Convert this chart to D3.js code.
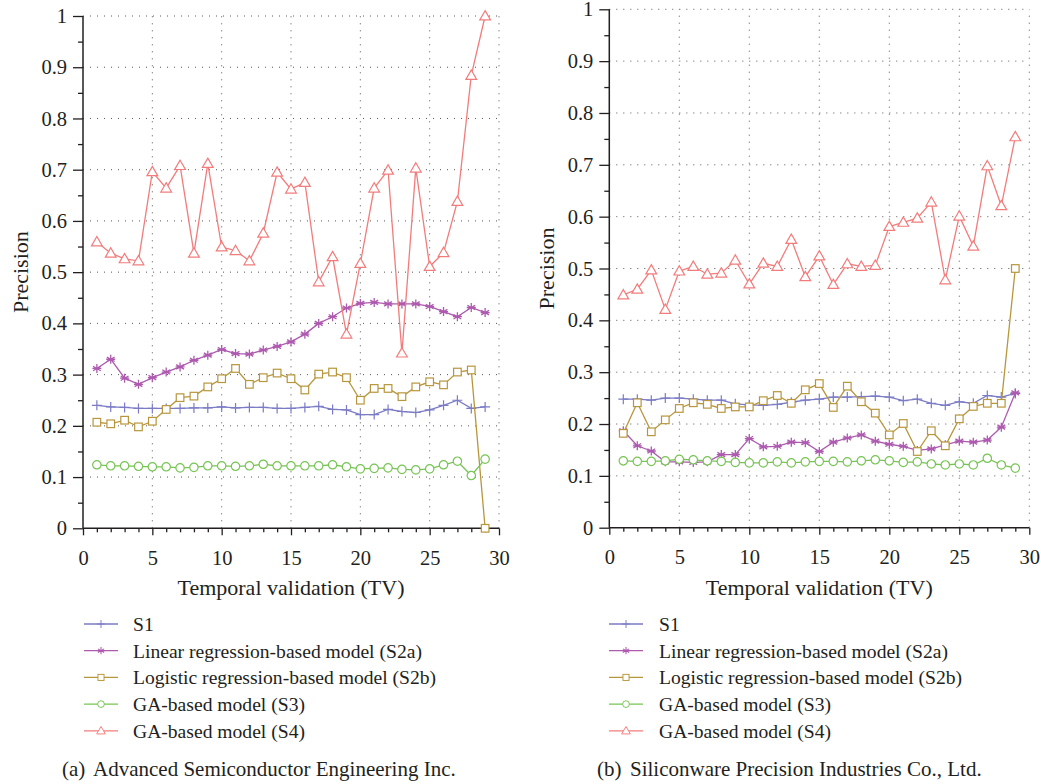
<!DOCTYPE html>
<html><head><meta charset="utf-8">
<script src="https://cdn.jsdelivr.net/npm/d3@7"></script>
<style>body{margin:0;background:#fff}svg{display:block}text{font-family:"Liberation Serif","DejaVu Serif",serif;fill:#231f20}</style>
</head><body>
<svg id="c" width="1041" height="784"></svg>
<script>
const tv = d3.range(1, 30);
const seriesNames = ["S1","Linear regression-based model (S2a)","Logistic regression-based model (S2b)","GA-based model (S3)","GA-based model (S4)"];
const seriesColors = ["#7b7bc6","#ad5aaf","#b8963c","#76c452","#f27c7c"];
const xTicks = [0,5,10,15,20,25,30];
const yTicks = [0,0.1,0.2,0.3,0.4,0.5,0.6,0.7,0.8,0.9,1];
const yTickLabels = ["0","0.1","0.2","0.3","0.4","0.5","0.6","0.7","0.8","0.9","1"];

// Panel (a) Advanced Semiconductor Engineering Inc.
const aS1  = [0.240,0.237,0.236,0.234,0.234,0.234,0.234,0.235,0.235,0.237,0.235,0.236,0.236,0.234,0.234,0.236,0.238,0.232,0.231,0.222,0.222,0.232,0.228,0.226,0.231,0.240,0.250,0.234,0.237];
const aS2a = [0.312,0.330,0.293,0.281,0.294,0.305,0.315,0.328,0.338,0.349,0.341,0.340,0.348,0.355,0.364,0.379,0.400,0.413,0.430,0.439,0.441,0.438,0.438,0.438,0.433,0.423,0.413,0.431,0.421];
const aS2b = [0.207,0.204,0.211,0.198,0.209,0.232,0.255,0.258,0.276,0.292,0.312,0.281,0.294,0.303,0.292,0.270,0.301,0.305,0.294,0.250,0.273,0.273,0.257,0.276,0.286,0.280,0.305,0.309,0.000];
const aS3  = [0.124,0.122,0.122,0.121,0.120,0.120,0.118,0.119,0.122,0.122,0.121,0.122,0.125,0.122,0.122,0.122,0.122,0.124,0.120,0.116,0.117,0.118,0.115,0.114,0.116,0.124,0.131,0.103,0.135];
const aS4  = [0.559,0.537,0.526,0.522,0.696,0.664,0.708,0.537,0.712,0.549,0.542,0.522,0.576,0.695,0.662,0.675,0.481,0.530,0.379,0.517,0.664,0.699,0.342,0.703,0.511,0.538,0.638,0.884,1.000];

// Panel (b) Siliconware Precision Industries Co., Ltd.
const bS1  = [0.248,0.248,0.246,0.250,0.250,0.248,0.246,0.246,0.239,0.237,0.236,0.238,0.242,0.246,0.248,0.252,0.252,0.253,0.254,0.252,0.245,0.248,0.240,0.236,0.243,0.240,0.255,0.252,0.259];
const bS2a = [0.187,0.158,0.148,0.127,0.127,0.126,0.127,0.141,0.141,0.172,0.156,0.157,0.165,0.164,0.147,0.165,0.173,0.179,0.167,0.161,0.157,0.149,0.152,0.160,0.167,0.165,0.169,0.194,0.260];
const bS2b = [0.182,0.241,0.185,0.208,0.230,0.241,0.238,0.230,0.233,0.233,0.245,0.255,0.240,0.266,0.278,0.232,0.273,0.243,0.221,0.179,0.201,0.147,0.187,0.158,0.210,0.234,0.240,0.240,0.500];
const bS3  = [0.129,0.128,0.128,0.129,0.132,0.131,0.129,0.128,0.126,0.125,0.125,0.127,0.125,0.127,0.128,0.128,0.127,0.129,0.131,0.129,0.126,0.127,0.123,0.121,0.123,0.121,0.134,0.121,0.115];
const bS4  = [0.449,0.460,0.497,0.421,0.495,0.504,0.489,0.491,0.516,0.470,0.510,0.504,0.556,0.484,0.524,0.469,0.509,0.504,0.506,0.581,0.589,0.597,0.628,0.478,0.601,0.543,0.698,0.621,0.754];

const panels = [
  {series:[aS1,aS2a,aS2b,aS3,aS4], x0:83, x1:499, y0:528.3, y1:16, ylabX:20, legLine:[84,118], legText:133, capX:62, capGap:31, tag:"(a)", caption:"Advanced Semiconductor Engineering Inc."},
  {series:[bS1,bS2a,bS2b,bS3,bS4], x0:609.3, x1:1029.3, y0:527.7, y1:9.3, ylabX:546, legLine:[609,643], legText:659, capX:597, capGap:33, tag:"(b)", caption:"Siliconware Precision Industries Co., Ltd."}
];

const svg = d3.select("#c");

function marker(g, type, color) {
  const sw = 1.2;
  if (type === 0) {
    g.append("path").attr("d","M-5,0H5M0,-5V5").attr("stroke",color).attr("stroke-width",sw).attr("fill","none");
  } else if (type === 1) {
    g.append("path").attr("d","M0,-4.5V4.5M-3.9,-2.25L3.9,2.25M-3.9,2.25L3.9,-2.25M-4.5,0H4.5").attr("stroke",color).attr("stroke-width",1.3).attr("fill","none");
  } else if (type === 2) {
    g.append("rect").attr("x",-3.8).attr("y",-3.8).attr("width",7.6).attr("height",7.6).attr("stroke",color).attr("stroke-width",sw).attr("fill","#fff");
  } else if (type === 3) {
    g.append("circle").attr("r",4.2).attr("stroke",color).attr("stroke-width",sw).attr("fill","#fff");
  } else {
    g.append("path").attr("d",d3.symbol(d3.symbolTriangle, 50)()).attr("transform","translate(0,0.8)").attr("stroke",color).attr("stroke-width",sw).attr("fill","#fff");
  }
}

panels.forEach(p => {
  const x = d3.scaleLinear().domain([0,30]).range([p.x0,p.x1]);
  const y = d3.scaleLinear().domain([0,1]).range([p.y0,p.y1]);
  const g = svg.append("g");

  // grid
  g.append("g").selectAll("line").data(yTicks.filter(v=>v>0)).join("line")
    .attr("x1",x(0)).attr("x2",x(30)).attr("y1",d=>y(d)).attr("y2",d=>y(d))
    .attr("stroke","#555").attr("stroke-width",1).attr("stroke-dasharray","1,6");
  g.append("g").selectAll("line").data(xTicks.filter(v=>v>0)).join("line")
    .attr("y1",y(0)).attr("y2",y(1)).attr("x1",d=>x(d)).attr("x2",d=>x(d))
    .attr("stroke","#555").attr("stroke-width",1).attr("stroke-dasharray","1,6");

  // axes
  const yAx = g.append("g").attr("transform",`translate(${x(0)},0)`)
    .call(d3.axisLeft(y).tickValues(yTicks).tickFormat((d,i)=>yTickLabels[i]).tickSize(10).tickPadding(6));
  const yMinor = g.append("g").attr("transform",`translate(${x(0)},0)`)
    .call(d3.axisLeft(y).tickValues(d3.range(0.05,1,0.1)).tickFormat("").tickSize(5));
  const xAx = g.append("g").attr("transform",`translate(0,${y(0)})`)
    .call(d3.axisBottom(x).tickValues(xTicks).tickSize(7).tickPadding(15));
  const xMinor = g.append("g").attr("transform",`translate(0,${y(0)})`)
    .call(d3.axisBottom(x).tickValues(d3.range(1,30).filter(v=>v%5)).tickFormat("").tickSize(4));
  [yAx,yMinor,xAx,xMinor].forEach(a=>{
    a.attr("font-size",null).attr("font-family",null);
    a.select(".domain").attr("stroke","#231f20").attr("stroke-width",1.5);
    a.selectAll(".tick line").attr("stroke","#231f20").attr("stroke-width",1.3);
    a.selectAll("text").style("font-size","20.5px").style("font-family","'Liberation Serif',serif").style("fill","#231f20");
  });
  xAx.select(".domain").attr("d",`M${x(0)},0H${x(30)}`);
  xMinor.select(".domain").remove();
  yAx.select(".domain").attr("d",`M0,${y(0)}V${y(1)}`);
  yMinor.select(".domain").remove();

  // titles
  g.append("text").attr("transform",`translate(${p.ylabX},${(y(0)+y(1))/2}) rotate(-90)`)
    .attr("text-anchor","middle").attr("dy","0.35em").style("font-size","22px").text("Precision");
  g.append("text").attr("x",(x(0)+x(30))/2).attr("y",595).attr("text-anchor","middle").style("font-size","22px").text("Temporal validation (TV)");

  // series
  const line = d3.line().x((d,i)=>x(tv[i])).y(d=>y(d));
  p.series.forEach((s,k)=>{
    g.append("path").datum(s).attr("d",line).attr("fill","none").attr("stroke",seriesColors[k]).attr("stroke-width",1.3);
    g.append("g").selectAll("g").data(s).join("g")
      .attr("transform",(d,i)=>`translate(${x(tv[i])},${y(d)})`)
      .each(function(){ marker(d3.select(this), k, seriesColors[k]); });
  });

  // legend
  seriesNames.forEach((n,k)=>{
    const yy = 624 + k*26.7;
    g.append("line").attr("x1",p.legLine[0]).attr("x2",p.legLine[1]).attr("y1",yy).attr("y2",yy)
      .attr("stroke",seriesColors[k]).attr("stroke-width",1.3);
    const mg = g.append("g");
    marker(mg,k,seriesColors[k]);
    mg.attr("transform",`translate(${(p.legLine[0]+p.legLine[1])/2},${yy}) scale(0.8)`);
    g.append("text").attr("x",p.legText).attr("y",yy).attr("dy","0.35em").style("font-size","19.6px").text(n);
  });

  // caption
  g.append("text").attr("x",p.capX).attr("y",776).style("font-size","21px").text(p.tag);
  g.append("text").attr("x",p.capX+p.capGap).attr("y",776).style("font-size","21px").text(p.caption);
});
</script>
</body></html>
